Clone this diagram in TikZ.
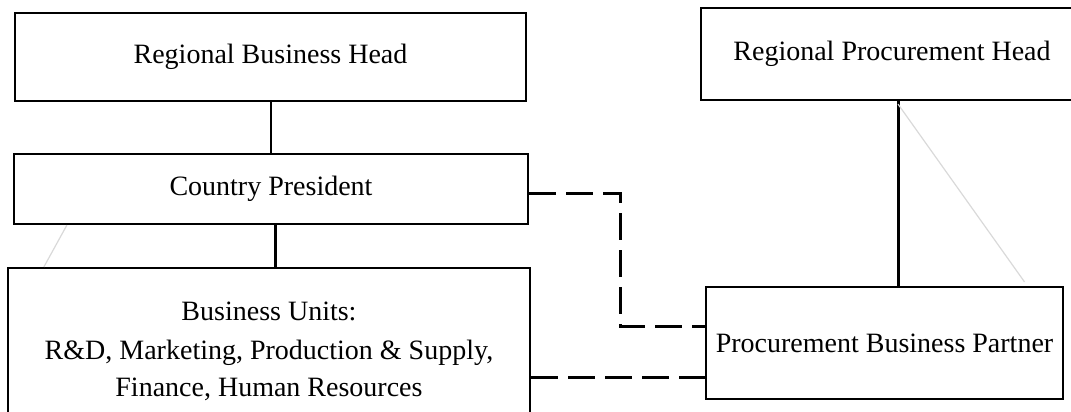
\documentclass[tikz,border=0pt]{standalone}
\usepackage{fontspec}
\setmainfont{Liberation Serif}
\usetikzlibrary{calc}

\begin{document}
\begin{tikzpicture}[x=0.5pt,y=-0.5pt,
    box/.style={draw,line width=1.1pt,inner sep=0pt,align=center,font=\fontsize{14}{18.5}\selectfont},
    link/.style={line width=1.5pt},
    dashlink/.style={line width=1.5pt,dash pattern=on 13.5pt off 5pt},
    ghost/.style={gray!30,line width=0.6pt}]
  \clip (0,0) rectangle (1071,412);
    \foreach \nm/\xc/\yc/\bw/\bh/\txt in {%
        rbh/270.5/57/255.5/44/{Regional Business Head},
        cp/271/189/257/35/{Country President},
        bu/269/351/261/83/{Business Units:\\[1pt]R\&D, Marketing, Production \& Supply,\\Finance, Human Resources},
        pbp/884.5/343/178.5/56/{Procurement Business Partner}%
    }{%
        \node[box,minimum width=\bw pt,minimum height=\bh pt] (\nm) at (\xc,\yc) {\txt};
    }
  % this one runs off the right side of the page
  \node[box,draw=none,minimum width=190pt,minimum height=45pt] (rph) at (892,54) {Regional Procurement Head};
  \draw[line width=1.1pt] (rph.north east) -- (rph.north west) -- (rph.south west) -- (rph.south east);
  % solid reporting lines
  \draw[line width=1pt] (rbh.south) -- (rbh.south |- cp.north);
  \coordinate (cpdrop) at ($(cp.south)+(4,0)$);
  \draw[link] (cpdrop) -- (cpdrop |- bu.north);
  \coordinate (rphdrop) at ($(rph.south)+(6,0)$);
  \draw[link] (rphdrop) -- (rphdrop |- pbp.north);
  % dotted-line relations
  \coordinate (cpout) at ($(cp.east)+(0,4)$);
  \coordinate (pbpin) at ($(pbp.west)+(0,-17)$);
  \draw[dashlink] (cpout) -- ($(cpout)+(91,0)$) |- (pbpin);
  \coordinate (buout) at ($(bu.east)+(0,26)$);
  \draw[dashlink] (buout) -- (buout -| pbp.west);
  % faint traces
  \draw[ghost] ($(cp.south west)+(54,0)$) -- ($(bu.north west)+(37,0)$);
  \draw[ghost] ($(rphdrop)+(0,4)$) -- ($(pbp.north)+(140,-4)$);
\end{tikzpicture}
\end{document}
